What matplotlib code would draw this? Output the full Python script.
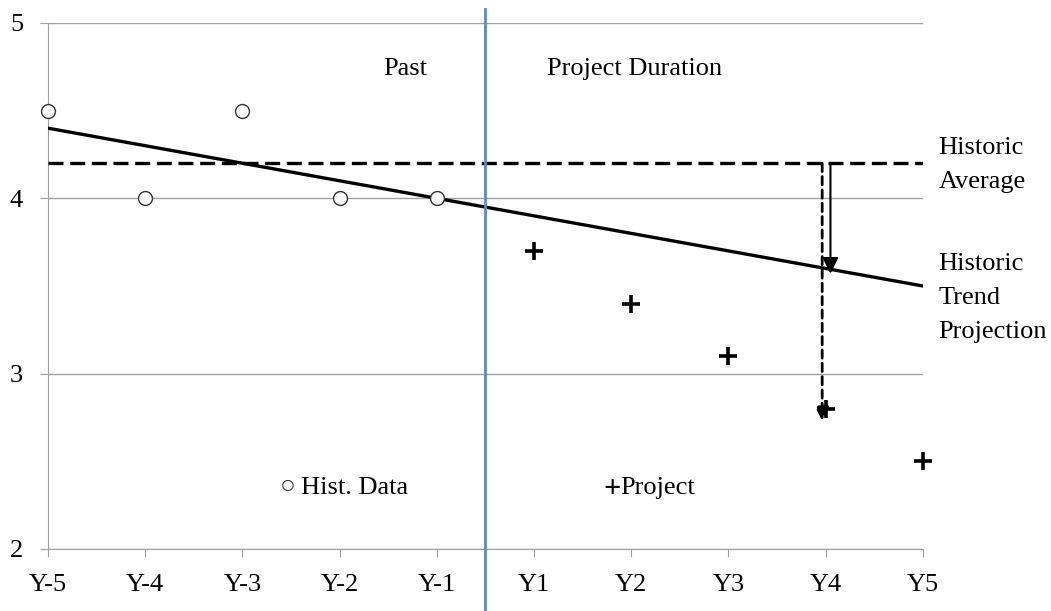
import matplotlib.pyplot as plt
import numpy as np

plt.rcParams['font.family'] = ['Liberation Serif', 'DejaVu Sans']

# categories along the x axis
years = ['Y-5', 'Y-4', 'Y-3', 'Y-2', 'Y-1', 'Y1', 'Y2', 'Y3', 'Y4', 'Y5']
hist_values = [4.5, 4.0, 4.5, 4.0, 4.0]
project_values = [3.7, 3.4, 3.1, 2.8, 2.5]

x = np.arange(len(years))
x_hist = x[:len(hist_values)]
x_proj = x[len(hist_values):]

# historic average and linear trend from the past values
hist_avg = np.mean(hist_values)
m, b = np.polyfit(x_hist, hist_values, 1)
trend = m * x + b

fig = plt.figure(figsize=(10.51, 6.11), dpi=100)
ax = fig.add_axes([0.0457, 0.1015, 0.878 - 0.0457, 0.9624 - 0.1015])

grey = '#a0a0a0'
fs = 19
ax.set_xlim(0, 9)
ax.set_ylim(2, 5)
ax.set_yticks([2, 3, 4, 5])
ax.set_xticks(x)
ax.set_xticklabels(years)
ax.grid(axis='y', color=grey, lw=1)
ax.set_axisbelow(True)
for s in ['top', 'right']:
    ax.spines[s].set_visible(False)
for s in ['left', 'bottom']:
    ax.spines[s].set_color(grey)
ax.tick_params(colors=grey, labelcolor='black', labelsize=fs, length=6)
ax.tick_params(axis='x', pad=12)
ax.tick_params(axis='y', pad=12)

# past / project divider
ax.plot([4.5, 4.5], [1.646, 5.08], color='#5b8ac6', lw=2, clip_on=False, zorder=5)

ax.plot(x, trend, color='black', lw=2.4, zorder=3)
ax.axhline(hist_avg, color='black', lw=2.4, ls=(0, (4.5, 2)), zorder=3)

ax.plot(x_hist, hist_values, 'o', ms=10, mfc='white', mec='#333333', mew=1, zorder=4, clip_on=False)
ax.plot(x_proj, project_values, '+', ms=13, color='black', mew=2.6, zorder=4, clip_on=False)

# drop arrows at Y4
i4 = years.index('Y4')
ax.annotate('', xy=(i4 + 0.05, trend[i4] - 0.03), xytext=(i4 + 0.05, hist_avg),
            arrowprops=dict(arrowstyle='-|>', color='black', lw=1.5, mutation_scale=24,
                            shrinkA=0, shrinkB=0), zorder=6)
ax.annotate('', xy=(i4 - 0.035, project_values[3] - 0.07), xytext=(i4 - 0.035, hist_avg),
            arrowprops=dict(arrowstyle='-|>', color='black', lw=2, ls=(0, (3, 1.8)),
                            mutation_scale=20, shrinkA=0, shrinkB=0), zorder=6)

ax.text(3.67, 4.74, 'Past', ha='center', va='center', fontsize=fs)
ax.text(6.03, 4.74, 'Project Duration', ha='center', va='center', fontsize=fs)
ax.text(9.16, 4.19, 'Historic\nAverage', ha='left', va='center', fontsize=fs,
        linespacing=1.75)
ax.text(9.16, 3.43, 'Historic\nTrend\nProjection', ha='left', va='center', fontsize=fs,
        linespacing=1.72)

ax.text(2.39, 2.355, '○', ha='left', va='center', fontsize=19, color='#333333')
ax.text(2.6, 2.35, 'Hist. Data', ha='left', va='center', fontsize=fs)
ax.text(5.71, 2.34, '+', ha='left', va='center', fontsize=22, fontweight='bold')
ax.text(5.89, 2.35, 'Project', ha='left', va='center', fontsize=fs)

fig.savefig('out.png', dpi=100)
